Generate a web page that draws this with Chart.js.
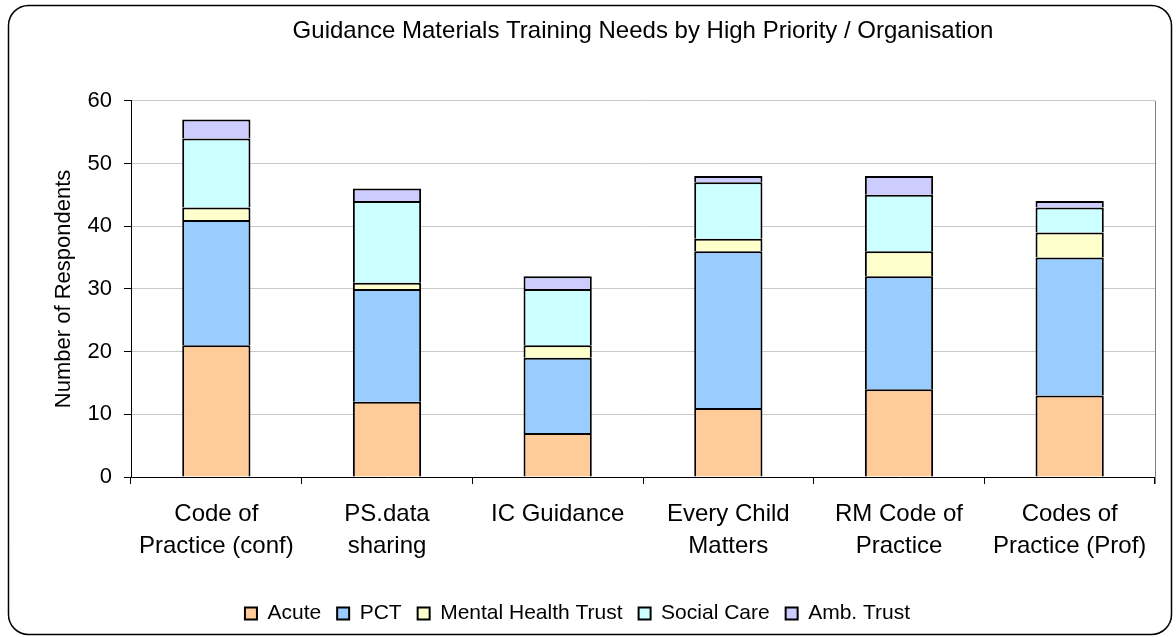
<!DOCTYPE html>
<html>
<head>
<meta charset="utf-8">
<script src="https://cdn.jsdelivr.net/npm/chart.js@4/dist/chart.umd.min.js"></script>
<style>
html,body{margin:0;padding:0;background:#fff;}
#wrap{width:1176px;height:637px;position:relative;}
</style>
</head>
<body>
<div id="wrap"><canvas id="c" width="1176" height="637"></canvas></div>
<script>
const chartTitle = "Guidance Materials Training Needs by High Priority / Organisation";
const yTitle = "Number of Respondents";
const categories = [
  ["Code of", "Practice (conf)"],
  ["PS.data", "sharing"],
  ["IC Guidance"],
  ["Every Child", "Matters"],
  ["RM Code of", "Practice"],
  ["Codes of", "Practice (Prof)"]
];
const seriesNames = ["Acute", "PCT", "Mental Health Trust", "Social Care", "Amb. Trust"];
const acute  = [21, 12, 7, 11, 14, 13];
const pct    = [20, 18, 12, 25, 18, 22];
const mental = [2, 1, 2, 2, 4, 4];
const social = [11, 13, 9, 9, 9, 4];
const amb    = [3, 2, 2, 1, 3, 1];
const yTicks = [0, 10, 20, 30, 40, 50, 60];
const colors = ["#FFCC99", "#99CCFF", "#FFFFCC", "#CCFFFF", "#CCCCFF"];

const FONT = "'Liberation Sans', Arial, sans-serif";
const seriesValues = [acute, pct, mental, social, amb];

const framePlugin = {
  id: 'frame',
  afterDraw(chart) {
    const ctx = chart.ctx;
    const ca = chart.chartArea;
    ctx.save();
    ctx.strokeStyle = '#808080';
    ctx.lineWidth = 1;
    ctx.beginPath();
    ctx.moveTo(Math.round(ca.right) + 0.5, ca.top);
    ctx.lineTo(Math.round(ca.right) + 0.5, ca.bottom + 7);
    ctx.stroke();
    ctx.strokeStyle = '#000';
    ctx.lineWidth = 1.5;
    const x0 = 8.5, y0 = 5.5, x1 = 1171.5, y1 = 634.5, r = 20;
    ctx.beginPath();
    ctx.moveTo(x0 + r, y0);
    ctx.lineTo(x1 - r, y0);
    ctx.arcTo(x1, y0, x1, y0 + r, r);
    ctx.lineTo(x1, y1 - r);
    ctx.arcTo(x1, y1, x1 - r, y1, r);
    ctx.lineTo(x0 + r, y1);
    ctx.arcTo(x0, y1, x0, y1 - r, r);
    ctx.lineTo(x0, y0 + r);
    ctx.arcTo(x0, y0, x0 + r, y0, r);
    ctx.closePath();
    ctx.stroke();
    ctx.restore();
  }
};

new Chart(document.getElementById('c'), {
  type: 'bar',
  data: {
    labels: categories,
    datasets: seriesNames.map((name, i) => ({
      label: name,
      data: seriesValues[i],
      backgroundColor: colors[i],
      borderColor: '#000',
      borderWidth: 2,
      barPercentage: 0.4,
      categoryPercentage: 1.0
    }))
  },
  options: {
    responsive: false,
    animation: false,
    devicePixelRatio: 1,
    layout: { padding: { left: 0, right: 21, top: 0, bottom: 3 } },
    plugins: {
      title: {
        display: true,
        text: chartTitle,
        color: '#000',
        fullSize: false,
        font: { family: FONT, size: 24, weight: 'normal', lineHeight: 1.2 },
        padding: { top: 17, bottom: 55 }
      },
      legend: {
        display: true,
        position: 'bottom',
        labels: {
          color: '#000',
          boxWidth: 12,
          boxHeight: 12,
          padding: 16,
          font: { family: FONT, size: 21 }
        }
      },
      tooltip: { enabled: false }
    },
    scales: {
      x: {
        stacked: true,
        grid: { display: true, drawOnChartArea: false, drawTicks: true, tickLength: 7, tickColor: '#000', color: '#000' },
        border: { display: true, color: '#000', width: 1 },
        ticks: {
          color: '#000',
          padding: 15,
          maxRotation: 0,
          autoSkip: false,
          font: { family: FONT, size: 24, lineHeight: 1.32 }
        },
        afterFit(scale) { scale.height = 110; }
      },
      y: {
        stacked: true,
        min: 0,
        max: 60,
        afterBuildTicks(scale) { scale.ticks = yTicks.map(v => ({ value: v })); },
        grid: { color: '#C8C8C8', tickColor: '#000', tickLength: 7, drawTicks: true },
        border: { display: true, color: '#000', width: 1 },
        ticks: {
          color: '#000',
          padding: 12,
          font: { family: FONT, size: 22 }
        },
        title: {
          display: true,
          text: yTitle,
          color: '#000',
          font: { family: FONT, size: 22, lineHeight: 1.2 },
          padding: { top: 51, bottom: 0 }
        },
        afterFit(scale) { scale.width = 131; }
      }
    }
  },
  plugins: [framePlugin]
});
</script>
</body>
</html>
